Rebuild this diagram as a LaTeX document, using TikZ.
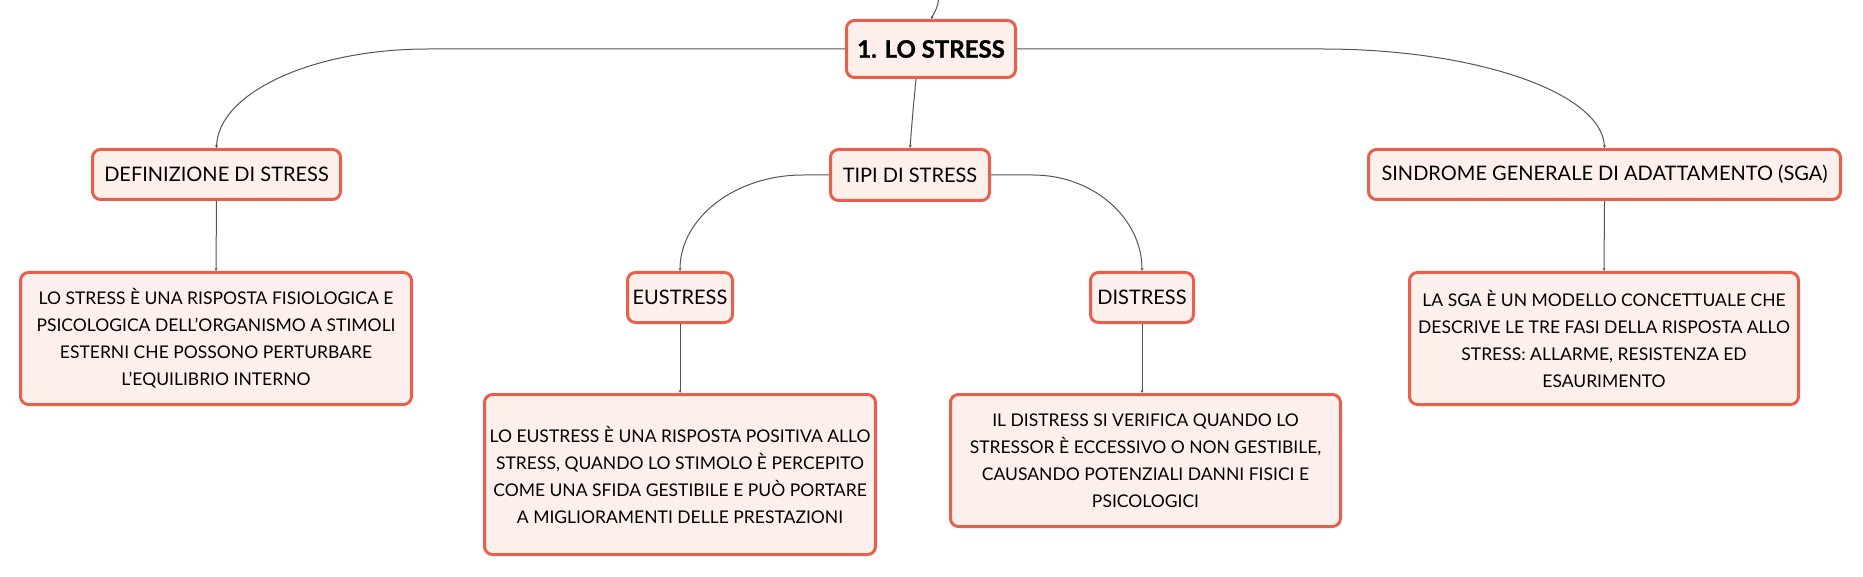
\documentclass[tikz,border=0pt]{standalone}
\usepackage{fontspec}
\setmainfont{Lato}
\newfontfamily\heavyfont{Lato}[BoldFeatures={FakeBold=1.2}]
\usetikzlibrary{arrows.meta}
\definecolor{bordc}{HTML}{E8604C}
\definecolor{fillc}{HTML}{FDF0EC}
\definecolor{linec}{HTML}{555555}
\begin{document}
\begin{tikzpicture}[x=1pt,y=-1pt,
  box/.style={draw=bordc,fill=fillc,line width=3pt,rounded corners=8pt,inner sep=0pt,align=center,text=black},
  rootbox/.style={box,font=\heavyfont\fontsize{24}{28}\selectfont\bfseries},
  topicbox/.style={box,font=\fontsize{20}{24}\selectfont},
  textbox/.style={box,font=\fontsize{17.5}{27}\selectfont},
  conn/.style={draw=linec,line width=1pt,-{Stealth[length=3pt,width=3pt]}}]
\useasboundingbox (0,0) rectangle (1863,577);
\node[rootbox,minimum width=169pt,minimum height=57pt] (root) at (931,49) {1. LO STRESS};
\node[topicbox,minimum width=159pt,minimum height=51pt] (tipi) at (910,175) {TIPI DI STRESS};
\node[topicbox,minimum width=248pt,minimum height=50pt] (def) at (216.5,174.5) {DEFINIZIONE DI STRESS};
\node[topicbox,minimum width=472pt,minimum height=50pt] (sga) at (1604.5,174.5) {SINDROME GENERALE DI ADATTAMENTO (SGA)};
\node[topicbox,minimum width=105pt,minimum height=50pt] (eus) at (680,297.5) {EUSTRESS};
\node[topicbox,minimum width=103pt,minimum height=50pt] (dis) at (1142,297.5) {DISTRESS};
\node[textbox,minimum width=391pt,minimum height=132pt] (deft) at (216,338.5) {LO STRESS È UNA RISPOSTA FISIOLOGICA E\\PSICOLOGICA DELL'ORGANISMO A STIMOLI\\ESTERNI CHE POSSONO PERTURBARE\\L'EQUILIBRIO INTERNO};
\node[textbox,minimum width=389pt,minimum height=132pt] (sgat) at (1604,338.5) {LA SGA È UN MODELLO CONCETTUALE CHE\\DESCRIVE LE TRE FASI DELLA RISPOSTA ALLO\\STRESS: ALLARME, RESISTENZA ED\\ESAURIMENTO};
\node[textbox,minimum width=391pt,minimum height=160pt] (eust) at (680,474.5) {LO EUSTRESS È UNA RISPOSTA POSITIVA ALLO\\STRESS, QUANDO LO STIMOLO È PERCEPITO\\COME UNA SFIDA GESTIBILE E PUÒ PORTARE\\A MIGLIORAMENTI DELLE PRESTAZIONI};
\node[textbox,minimum width=390pt,minimum height=132pt] (dist) at (1145.5,460.5) {IL DISTRESS SI VERIFICA QUANDO LO\\STRESSOR È ECCESSIVO O NON GESTIBILE,\\CAUSANDO POTENZIALI DANNI FISICI E\\PSICOLOGICI};
\coordinate (topin) at (939,-2);
\draw[conn] (topin) .. controls (937,8) .. (root.north);
\draw[conn] ([xshift=-15pt]root.south) .. controls (913,110) .. (tipi.north);
\draw[conn] (root.west) -- (428,49) .. controls (312,49) and (218,93) .. (def.north);
\draw[conn] (root.east) -- (1322,49) .. controls (1477,49) and (1602,93) .. (sga.north);
\draw[conn] (tipi.west) -- (803,175) .. controls (735,175) and (680,218) .. (eus.north);
\draw[conn] (tipi.east) -- (1033,175) .. controls (1093,175) and (1142,218) .. (dis.north);
\draw[conn] (def.south) -- (deft.north);
\draw[conn] (sga.south) -- (sgat.north);
\draw[conn] (eus.south) -- (eust.north);
\draw[conn] (dis.south) -- (dist.north -| dis.south);
\end{tikzpicture}
\end{document}
